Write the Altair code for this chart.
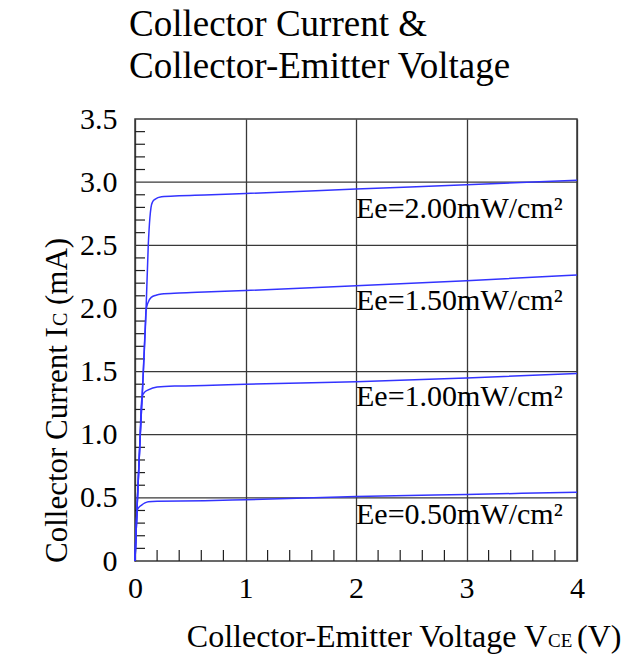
import altair as alt
import pandas as pd

SERIF = "Liberation Serif"

# ---- data ----
V_200 = [0, 0.02, 0.045, 0.07, 0.097, 0.12, 0.135, 0.145, 0.16, 0.18, 0.24, 0.4, 0.63, 1.0, 2.0, 3.0, 4.0]
I_200 = [0, 0.45, 0.95, 1.4, 1.91, 2.5, 2.72, 2.8, 2.845, 2.864, 2.884, 2.892, 2.898, 2.91, 2.945, 2.98, 3.015]

V_150 = [0, 0.02, 0.045, 0.07, 0.09, 0.1, 0.115, 0.15, 0.19, 0.24, 0.4, 0.63, 1.0, 2.0, 3.0, 4.0]
I_150 = [0, 0.45, 0.95, 1.4, 1.8, 1.98, 2.04, 2.09, 2.105, 2.114, 2.122, 2.13, 2.142, 2.18, 2.22, 2.265]

V_100 = [0, 0.02, 0.045, 0.055, 0.065, 0.085, 0.12, 0.2, 0.4, 0.63, 1.0, 2.0, 3.0, 4.0]
I_100 = [0, 0.45, 0.95, 1.2, 1.3, 1.335, 1.355, 1.378, 1.386, 1.39, 1.40, 1.42, 1.45, 1.485]

V_050 = [0, 0.012, 0.02, 0.035, 0.06, 0.09, 0.12, 0.2, 0.63, 1.0, 2.0, 3.0, 4.0]
I_050 = [0, 0.3, 0.40, 0.425, 0.443, 0.46, 0.47, 0.474, 0.477, 0.485, 0.51, 0.527, 0.544]

series_names = ["Ee=2.00", "Ee=1.50", "Ee=1.00", "Ee=0.50"]
label_texts = ["Ee=2.00mW/cm²", "Ee=1.50mW/cm²", "Ee=1.00mW/cm²", "Ee=0.50mW/cm²"]
label_x = [2.0, 2.0, 2.0, 2.0]
label_y = [2.72, 1.985, 1.23, 0.295]

x_ticks = [0, 1, 2, 3, 4]
y_ticks = [0, 0.5, 1.0, 1.5, 2.0, 2.5, 3.0, 3.5]
x_minor = [0.2, 0.4, 0.6, 0.8, 1.2, 1.4, 1.6, 1.8, 2.2, 2.4, 2.6, 2.8, 3.2, 3.4, 3.6, 3.8]
y_minor = [0.1, 0.2, 0.3, 0.4, 0.6, 0.7, 0.8, 0.9, 1.1, 1.2, 1.3, 1.4, 1.6, 1.7, 1.8, 1.9,
           2.1, 2.2, 2.3, 2.4, 2.6, 2.7, 2.8, 2.9, 3.1, 3.2, 3.3, 3.4]
hgrid_y = [0.5, 1.0, 1.5, 2.0, 2.5, 3.0]
hgrid_end = [4, 4, 4, 2, 4, 4]

W, H = 442, 442

# ---- tables ----
rows = []
for name, vs, cs in zip(series_names, [V_200, V_150, V_100, V_050], [I_200, I_150, I_100, I_050]):
    for v, c in zip(vs, cs):
        rows.append({"x": v, "y": c, "s": name})
curves_df = pd.DataFrame(rows)
labels_df = pd.DataFrame({"x": label_x, "y": label_y, "t": label_texts})
hgrid_df = pd.DataFrame({"x": [0] * len(hgrid_y), "x2": hgrid_end, "y": hgrid_y})
xminor_df = pd.DataFrame({"x": x_minor})
yminor_df = pd.DataFrame({"y": y_minor})

xs = alt.Scale(domain=[0, 4], nice=False, zero=False)
ys = alt.Scale(domain=[0, 3.5], nice=False, zero=False)

x_axis = alt.Axis(values=x_ticks, format="d", grid=True, gridColor="#383838", gridWidth=1.3,
                  ticks=False, domain=False, labelFont=SERIF, labelFontSize=30, labelFlush=False,
                  labelColor="black", labelPadding=12, title=None)
y_axis = alt.Axis(values=y_ticks, labelExpr="datum.value == 0 ? '0' : format(datum.value, '.1f')",
                  grid=False, ticks=False, domain=False, labelFont=SERIF, labelFontSize=30,
                  labelFlush=False, labelColor="black", labelPadding=18, title=None)


def X(f):
    return alt.X(f, type="quantitative", scale=xs, axis=x_axis)


def Y(f):
    return alt.Y(f, type="quantitative", scale=ys, axis=y_axis)


hgrid = alt.Chart(hgrid_df).mark_rule(color="#383838", strokeWidth=1.3).encode(
    x=X("x"), x2="x2:Q", y=Y("y"))

yminor = alt.Chart(yminor_df).mark_rule(color="#202020", strokeWidth=1.2).encode(
    y=Y("y"), x=alt.value(0), x2=alt.value(10))

xminor = alt.Chart(xminor_df).mark_rule(color="#202020", strokeWidth=1.2).encode(
    x=X("x"), y=alt.value(H), y2=alt.value(H - 11))

curves = alt.Chart(curves_df).mark_line(interpolate="monotone", color="#3333ff", strokeWidth=1.5).encode(
    x=X("x"), y=Y("y"), detail="s:N")

labels = alt.Chart(labels_df).mark_text(align="left", baseline="alphabetic", font=SERIF,
                                        fontSize=30, color="black").encode(
    x=X("x"), y=Y("y"), text="t:N")


def note(text, px, py, size, angle=0, align="left"):
    return alt.Chart(pd.DataFrame({"t": [text]})).mark_text(
        align=align, baseline="alphabetic", font=SERIF, fontSize=size, color="black", angle=angle
    ).encode(x=alt.value(px), y=alt.value(py), text="t:N")


# x-axis title with small "CE"
xt1 = note("Collector-Emitter Voltage V", 412, 528, 32, align="right")
xt2 = note("CE", 413, 528, 19)
xt3 = note("(V)", 442, 528, 32)

# y-axis title with small "C"
yt1 = note("Collector Current I", -68, 444, 31, angle=270)
yt2 = note("C", -68, 207, 20, angle=270)
yt3 = note("(mA)", -68, 186, 31, angle=270)

chart = alt.layer(hgrid, yminor, xminor, curves, labels, xt1, xt2, xt3, yt1, yt2, yt3).properties(
    width=W, height=H,
    title=alt.TitleParams(text=["Collector Current &", "Collector-Emitter Voltage"], anchor="start",
                          frame="group", font=SERIF, fontSize=37, fontWeight="normal", color="black",
                          dx=-6, offset=18, lineHeight=42),
    padding={"left": 127, "top": 111, "right": 45, "bottom": 110},
    autosize=alt.AutoSizeParams(type="none"),
).configure_view(stroke="#383838", strokeWidth=1.5)

chart.save("out.html", embed_options={"renderer": "svg", "actions": False})
